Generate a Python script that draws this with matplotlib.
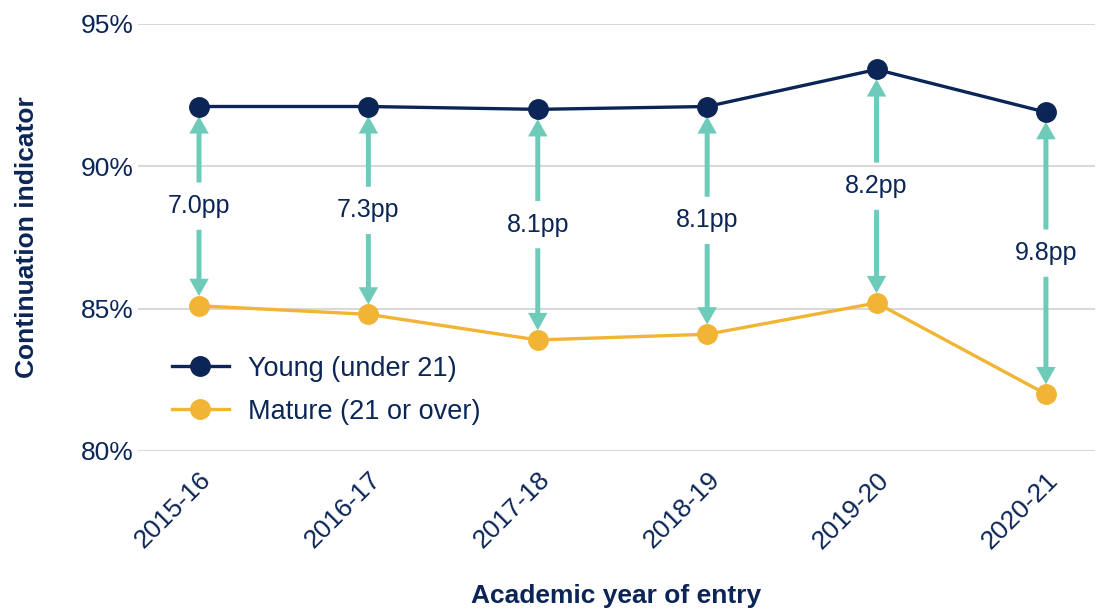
import matplotlib
matplotlib.use("Agg")
from matplotlib import pyplot as plt
from matplotlib.ticker import FuncFormatter
import numpy as np

years = ["2015-16", "2016-17", "2017-18", "2018-19", "2019-20", "2020-21"]
young = [92.1, 92.1, 92.0, 92.1, 93.4, 91.9]
mature = [85.1, 84.8, 83.9, 84.1, 85.2, 82.0]
gap_labels = ["7.0pp", "7.3pp", "8.1pp", "8.1pp", "8.2pp", "9.8pp"]

navy = "#0B2556"
gold = "#F1B434"
teal = "#6FCBB9"
grid = "#D9D9D9"

plt.rcParams["font.family"] = ["Liberation Sans", "DejaVu Sans"]

fig = plt.figure(figsize=(10.99, 6.14), dpi=100)
ax = fig.add_axes([0.1256, 0.2655, 0.8708, 0.6955])

x = np.arange(len(years))

# Gap arrows between the two series, label in the middle
for xi, yv, mv, lab in zip(x, young, mature, gap_labels):
    mid = (yv + mv) / 2
    for target in (yv, mv):
        ax.annotate("", xy=(xi, target), xytext=(xi, mid),
                    arrowprops=dict(arrowstyle="simple,head_length=1.25,head_width=1.4,tail_width=0.36",
                                    mutation_scale=10, fc=teal, ec="none", lw=0,
                                    shrinkA=17, shrinkB=7),
                    zorder=2)
    ax.text(xi, mid, lab, ha="center", va="center", fontsize=18, color=navy, zorder=4)

ax.plot(x, young, color=navy, lw=2.4, marker="o", markersize=14,
        label="Young (under 21)", zorder=3)
ax.plot(x, mature, color=gold, lw=2.4, marker="o", markersize=14,
        label="Mature (21 or over)", zorder=3)

ax.set_ylim(80, 95)
ax.set_xlim(-0.36, 5.29)
ax.set_yticks([80, 85, 90, 95])
ax.yaxis.set_major_formatter(FuncFormatter(lambda v, p: f"{v:.0f}%"))
ax.set_xticks(x)
ax.set_xticklabels(years, rotation=45, ha="right", rotation_mode="anchor")
ax.tick_params(axis="both", length=0, labelsize=19, labelcolor=navy)
ax.tick_params(axis="x", pad=12)
ax.tick_params(axis="y", pad=3)
ax.grid(axis="y", color=grid, lw=1.5)
ax.set_axisbelow(True)
for s in ax.spines.values():
    s.set_visible(False)

ax.set_ylabel("Continuation indicator", fontsize=19, fontweight="bold", color=navy, labelpad=30)
ax.set_xlabel("Academic year of entry", fontsize=19, fontweight="bold", color=navy, labelpad=22)

ax.legend(loc="upper left", bbox_to_anchor=(0.01, 0.28), frameon=False, fontsize=19.5,
          labelcolor=navy, handlelength=2.1, handletextpad=0.7, labelspacing=0.62)

fig.savefig("out.png", dpi=100)
